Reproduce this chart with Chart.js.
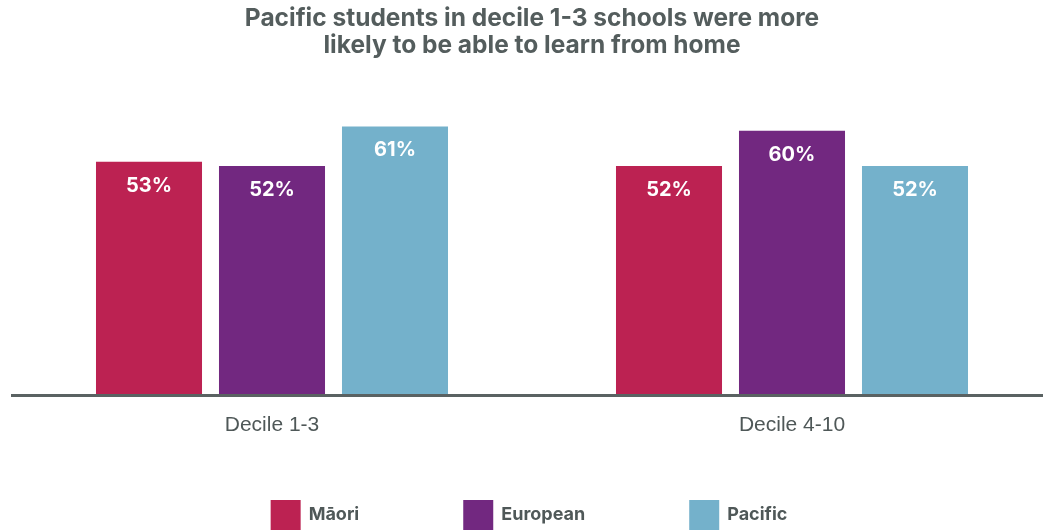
<!DOCTYPE html>
<html>
<head>
<meta charset="utf-8">
<script src="https://cdn.jsdelivr.net/npm/chart.js@4/dist/chart.umd.min.js"></script>
<style>
  html, body { margin: 0; padding: 0; background: #ffffff; overflow: hidden; }
  #wrap { width: 1060px; height: 530px; }
</style>
</head>
<body>
<div id="wrap"><canvas id="chart" width="1060" height="530"></canvas></div>
<script>
// Share of students able to learn from home, by school decile and ethnicity (%)
const categories = ['Decile 1-3', 'Decile 4-10'];
const seriesNames = ['Māori', 'European', 'Pacific'];
const maoriValues = [53, 52];
const europeanValues = [52, 60];
const pacificValues = [61, 52];
const titleLines = ['Pacific students in decile 1-3 schools were more', 'likely to be able to learn from home'];

const seriesColours = ['#BC2252', '#722880', '#74B1CB'];
const textGrey = '#4F5858';
const FONT = 'Inter, Roboto, "Liberation Sans", Arial, sans-serif';

// White value labels inside the top of each bar
const valueLabels = {
  id: 'valueLabels',
  afterDatasetsDraw(chart) {
    const ctx = chart.ctx;
    ctx.save();
    ctx.fillStyle = '#ffffff';
    ctx.font = 'bold 20px ' + FONT;
    ctx.textAlign = 'center';
    ctx.textBaseline = 'middle';
    chart.data.datasets.forEach((ds, i) => {
      const meta = chart.getDatasetMeta(i);
      meta.data.forEach((bar, j) => {
        ctx.fillText(ds.data[j] + '%', bar.x, bar.y + 24);
      });
    });
    ctx.restore();
  }
};

// Legend row with square swatches along the bottom
const bottomLegend = {
  id: 'bottomLegend',
  afterDraw(chart) {
    const ctx = chart.ctx;
    const box = 30, gap = 8, spacing = 104;
    const top = 500;
    ctx.save();
    ctx.font = 'bold 18px ' + FONT;
    ctx.textBaseline = 'middle';
    ctx.textAlign = 'left';
    const items = chart.data.datasets.map(ds => ({
      label: ds.label, colour: ds.backgroundColor, w: ctx.measureText(ds.label).width
    }));
    const total = items.reduce((s, it) => s + box + gap + it.w, 0) + spacing * (items.length - 1);
    let x = 529 - total / 2;
    items.forEach(it => {
      ctx.fillStyle = it.colour;
      ctx.fillRect(x, top, box, box);
      ctx.fillStyle = textGrey;
      ctx.fillText(it.label, x + box + gap, top + box / 2);
      x += box + gap + it.w + spacing;
    });
    ctx.restore();
  }
};

const seriesValues = [maoriValues, europeanValues, pacificValues];

new Chart(document.getElementById('chart'), {
  type: 'bar',
  data: {
    labels: categories,
    datasets: seriesNames.map((name, i) => ({
      label: name,
      data: seriesValues[i],
      backgroundColor: seriesColours[i],
      borderWidth: 0,
      categoryPercentage: 0.7096,
      barPercentage: 0.862
    }))
  },
  options: {
    responsive: false,
    animation: false,
    devicePixelRatio: 1,
    layout: { padding: { left: 12, right: 8, top: 0, bottom: 0 } },
    plugins: {
      legend: { display: false },
      tooltip: { enabled: false },
      title: {
        display: true,
        text: titleLines,
        color: '#545D5D',
        font: { family: FONT, size: 24.5, weight: 'bold', lineHeight: 1.07 },
        padding: { top: 6, bottom: 28.4 }
      }
    },
    scales: {
      x: {
        grid: { display: false, drawTicks: false },
        border: { display: true, color: '#5A6262', width: 3, z: 1 },
        ticks: {
          color: textGrey,
          font: { family: '"Liberation Sans", Arial, sans-serif', size: 21 },
          padding: 18
        },
        afterFit(scale) { scale.height = 135; }
      },
      y: {
        display: false,
        min: 0,
        max: 70
      }
    }
  },
  plugins: [valueLabels, bottomLegend]
});
</script>
</body>
</html>
